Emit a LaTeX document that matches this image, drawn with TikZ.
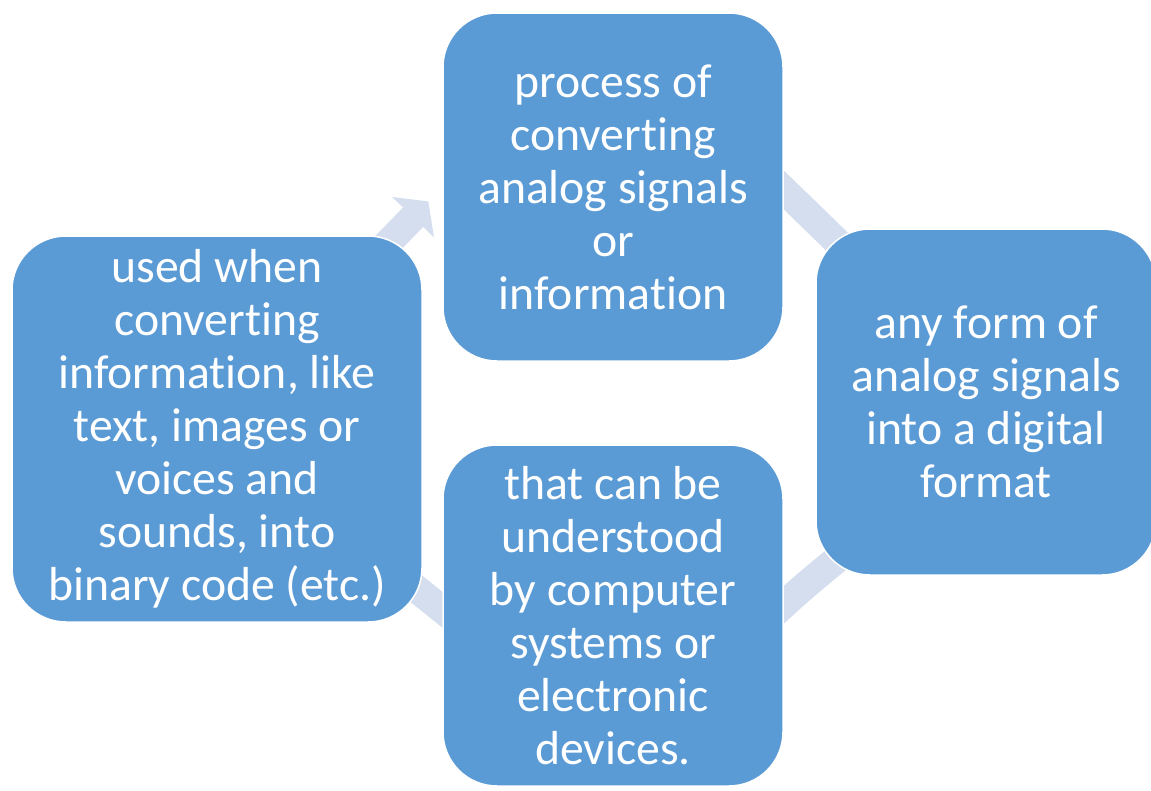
\documentclass[tikz,border=0pt]{standalone}
\usepackage{fontspec}
\setmainfont{Carlito}[Ligatures={NoCommon,NoContextual},Contextuals=NoAlternate]
\usepackage{tikz}
\usetikzlibrary{arrows.meta,backgrounds}

\definecolor{boxblue}{HTML}{5B9BD5}
\definecolor{cycblue}{HTML}{D4DEEF}
% keep t and i apart
\newcommand{\ti}{t\kern0pt i}

\begin{document}
\begin{tikzpicture}[x=1pt, y=1pt,
    cbox/.style={rectangle, rounded corners=54pt, fill=boxblue, draw=white, line width=1.5pt, text=white, align=center, inner sep=0pt, font=\fontsize{47.7}{53}\selectfont},
    cyc/.style={draw=cycblue, line width=28pt, -{Triangle[width=57pt,length=22pt]}}]
    \useasboundingbox (0,0) rectangle (1151,-790);

    \node[cbox, minimum width=340pt, minimum height=348pt] (p1) at (613,-187) {process of\\conver\ti ng\\analog signals\\or\\informa\ti on};
    \node[cbox, minimum width=340pt, minimum height=346pt] (p2) at (986,-402) {any form of\\analog signals\\into a digital\\format};
    \node[cbox, minimum width=340pt, minimum height=341pt] (p3) at (613,-615.5) {that can be\\understood\\by computer\\systems or\\electronic\\devices.};
    \node[cbox, minimum width=410pt, minimum height=386pt] (p4) at (217,-429) {used when\\conver\ti ng\\informa\ti on, like\\text, images or\\voices and\\sounds, into\\binary code (etc.)};

    \begin{scope}[on background layer]
    \draw[cyc, shorten >=20pt] (p4.center) to[out=50, in=226] (p1.west);
    \draw[cyc, shorten <=-25pt] (p1.-1) to[out=-44, in=130] (p2.center);
    \draw[cyc, shorten >=-60pt] (p2.center) to[out=-115, in=45] (p3.4);
    \draw[cyc, shorten <=-30pt] (p3.178) to[out=141, in=-40] (p4.center);
    \end{scope}
\end{tikzpicture}
\end{document}
